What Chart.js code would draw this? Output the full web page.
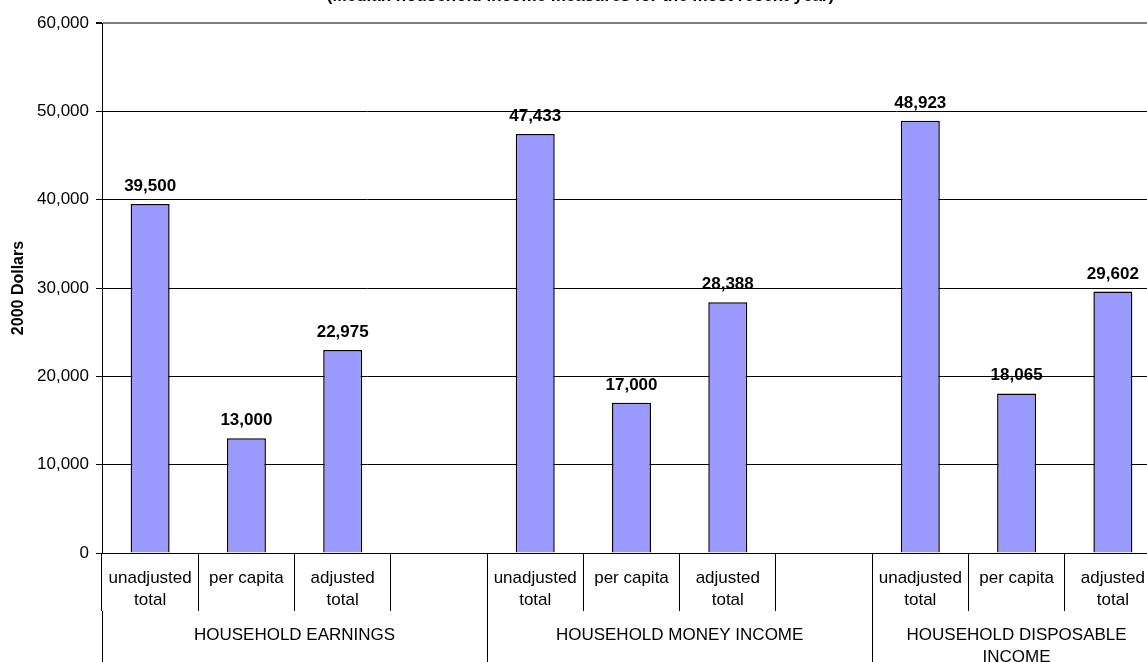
<!DOCTYPE html>
<html>
<head>
<meta charset="utf-8">
<script src="https://cdn.jsdelivr.net/npm/chart.js@4"></script>
<style>
html, body { margin: 0; padding: 0; overflow: hidden; background: #fff; width: 1147px; height: 662px; }
/* plot runs past the right edge, like the original picture */
#wrap { position: absolute; left: 0; top: -16px; width: 1165px; height: 678px; }
</style>
</head>
<body>
<div id="wrap"><canvas id="myChart"></canvas></div>
<script>
const groupLabels = ["HOUSEHOLD EARNINGS", "HOUSEHOLD MONEY INCOME", ["HOUSEHOLD DISPOSABLE", "INCOME"]];
const measureLabels = [["unadjusted", "total"], "per capita", ["adjusted", "total"]];
const earnings = [39500, 13000, 22975];
const moneyIncome = [47433, 17000, 28388];
const disposableIncome = [48923, 18065, 29602];
const yTicks = [0, 10000, 20000, 30000, 40000, 50000, 60000];

Chart.defaults.font.family = "'Liberation Sans', Arial, sans-serif";
Chart.defaults.color = "#000";

// an empty slot after each group except the last
const series = [earnings, moneyIncome, disposableIncome];
const labels = [];
const values = [];
const groupEdges = [0];
series.forEach((s, i) => {
    labels.push(...measureLabels);
    values.push(...s);
    if (i < series.length - 1) {
        labels.push("");
        values.push(null);
    }
    groupEdges.push(labels.length);
});
const groupCenters = groupLabels.map((g, i) => (groupEdges[i] + groupEdges[i + 1]) / 2);

const fmt = (v) => v.toLocaleString("en-US");

// bold value above each bar
const valueLabels = {
    id: "valueLabels",
    afterDatasetsDraw(chart) {
        const c = chart.ctx;
        const meta = chart.getDatasetMeta(0);
        c.save();
        c.font = "bold 17px 'Liberation Sans', Arial, sans-serif";
        c.fillStyle = "#000";
        c.textAlign = "center";
        c.textBaseline = "alphabetic";
        meta.data.forEach((bar, i) => {
            const v = values[i];
            if (v == null) return;
            c.fillText(fmt(v), bar.x, bar.y - 13);
        });
        c.restore();
    }
};

const ctx = document.getElementById("myChart");
const myChart = new Chart(ctx, {
    type: "bar",
    data: {
        labels: labels,
        datasets: [{
            data: values,
            backgroundColor: "#9999ff",
            borderColor: "#000",
            borderWidth: 1.5,
            barPercentage: 0.405,
            categoryPercentage: 1
        }]
    },
    options: {
        responsive: true,
        maintainAspectRatio: false,
        animation: false,
        layout: { padding: { left: 0, right: 4, top: 0, bottom: 0 } },
        plugins: {
            legend: { display: false },
            tooltip: { enabled: false },
            title: {
                display: true,
                text: "(Median household income measures for the most recent year)",
                font: { size: 17, weight: "bold" },
                color: "#000",
                padding: { top: 2, bottom: 16.6 }
            }
        },
        scales: {
            x: {
                type: "category",
                position: "bottom",
                weight: 0,
                offset: true,
                grid: { offset: true, drawOnChartArea: false, tickLength: 58, color: "#000", lineWidth: 1 },
                border: { color: "#000", width: 1 },
                ticks: {
                    autoSkip: false, maxRotation: 0, minRotation: 0, padding: -44,
                    color: "#000", font: { size: 17, lineHeight: 1.3 }
                },
                afterFit: (s) => { s.height = 58; }
            },
            // group row: lines at the group edges, names at the centres
            x2: {
                type: "linear",
                position: "bottom",
                weight: 1,
                min: 0,
                max: labels.length,
                offset: false,
                afterBuildTicks: (s) => {
                    s.ticks = [...groupEdges, ...groupCenters].sort((a, b) => a - b).map((v) => ({ value: v }));
                },
                grid: {
                    offset: false,
                    drawOnChartArea: false,
                    tickLength: 60,
                    lineWidth: 1,
                    color: (c) => (c.tick && groupEdges.includes(c.tick.value) ? "#000" : "rgba(0,0,0,0)")
                },
                border: { display: false },
                ticks: {
                    autoSkip: false, maxRotation: 0, minRotation: 0, padding: -47,
                    color: "#000", font: { size: 17, lineHeight: 1.3 },
                    callback: (v) => {
                        const i = groupCenters.indexOf(v);
                        return i >= 0 ? groupLabels[i] : "";
                    }
                },
                afterFit: (s) => { s.height = 51; }
            },
            y: {
                min: 0,
                max: 60000,
                afterBuildTicks: (s) => { s.ticks = yTicks.map((v) => ({ value: v })); },
                ticks: { padding: 7, color: "#000", font: { size: 17 }, callback: (v) => fmt(v) },
                grid: {
                    tickLength: 6,
                    tickColor: "#000",
                    color: (c) => (c.tick && c.tick.value === 60000 ? "#808080" : "#000"),
                    lineWidth: (c) => (c.tick && c.tick.value === 60000 ? 2 : 1)
                },
                border: { color: "#000", width: 1 },
                title: {
                    display: true,
                    text: "2000 Dollars",
                    color: "#000",
                    font: { size: 16, weight: "bold" },
                    padding: { top: 9, bottom: 0 }
                },
                afterFit: (s) => { s.width = 102; }
            }
        }
    },
    plugins: [valueLabels]
});
</script>
</body>
</html>
